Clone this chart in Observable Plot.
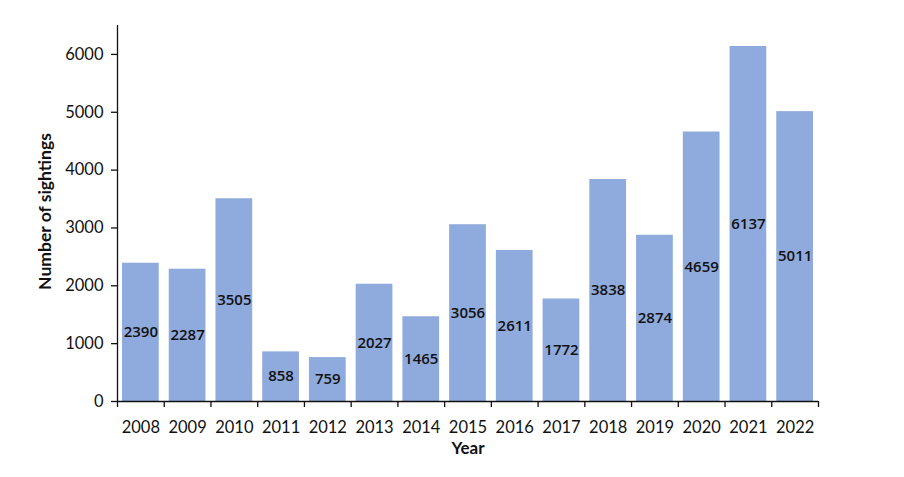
<!DOCTYPE html>
<html>
<head>
<meta charset="utf-8">
<script src="https://cdn.jsdelivr.net/npm/d3@7"></script>
<script src="https://cdn.jsdelivr.net/npm/@observablehq/plot@0.6"></script>
<style>
  body { margin: 0; background: #fff; }
  svg { font-family: Lato, sans-serif; }
</style>
</head>
<body>
<div id="chart"></div>
<script>
const years = [2008, 2009, 2010, 2011, 2012, 2013, 2014, 2015, 2016, 2017, 2018, 2019, 2020, 2021, 2022];
const sightings = [2390, 2287, 3505, 858, 759, 2027, 1465, 3056, 2611, 1772, 3838, 2874, 4659, 6137, 5011];
const yTicks = [0, 1000, 2000, 3000, 4000, 5000, 6000];

const data = years.map((year, i) => ({year, value: sightings[i]}));
const boundaries = d3.range(years[0], years[years.length - 1] + 2);

const chart = Plot.plot({
  width: 904,
  height: 477,
  marginLeft: 117,
  marginRight: 86,
  marginTop: 25,
  marginBottom: 76,
  style: {fontFamily: "Lato, sans-serif", fontSize: "16px", color: "#111", background: "#fff"},
  x: {domain: [years[0], years[years.length - 1] + 1], axis: null},
  y: {domain: [0, 6500], axis: null},
  marks: [
    Plot.rectY(data, {x: "year", y: "value", interval: 1, fill: "#8faadc", insetLeft: 5, insetRight: 5}),
    Plot.text(data, {
      x: d => d.year + 0.5, y: d => d.value / 2, text: d => String(d.value),
      fill: "#111", fontFamily: "'Open Sans', sans-serif", fontSize: 15, fontWeight: 600
    }),
    Plot.axisX({ticks: boundaries, tickFormat: () => "", tickSize: 6, stroke: "#111", strokeWidth: 1.3, label: null}),
    Plot.axisX({ticks: years.map(y => y + 0.5), tickFormat: d => String(Math.round(d - 0.5)), tickSize: 0, tickPadding: 20, fontSize: 16.5, fill: "#111", label: null}),
    Plot.axisY({ticks: yTicks, tickFormat: d => String(d), tickSize: 6, tickPadding: 8, fontSize: 16.5, fill: "#111", stroke: "#111", strokeWidth: 1.3, label: null}),
    Plot.ruleY([0], {stroke: "#111", strokeWidth: 1.3}),
    Plot.ruleX([years[0]], {stroke: "#111", strokeWidth: 1.3}),
    Plot.text(["Year"], {frameAnchor: "bottom", dy: 52, fontWeight: 700, fontSize: 17, fill: "#111"}),
    Plot.text(["Number of sightings"], {frameAnchor: "left", textAnchor: "middle", dx: -72, dy: -2, rotate: -90, fontWeight: 700, fontSize: 17.5, fill: "#111"})
  ]
});
document.getElementById("chart").append(chart);
</script>
</body>
</html>
